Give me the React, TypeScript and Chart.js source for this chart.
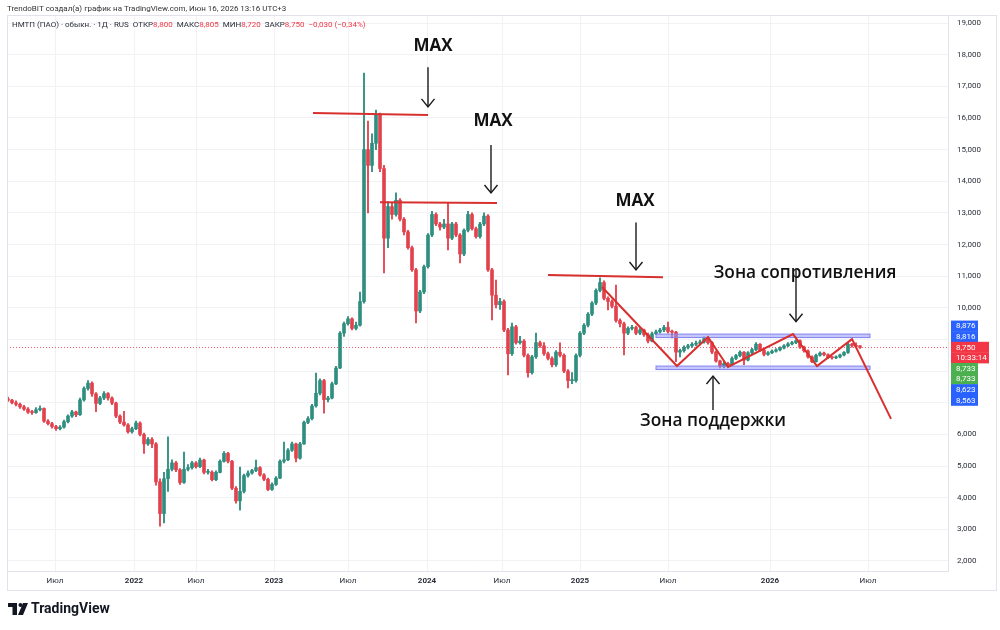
import { useEffect, useRef } from "react";
import { Chart, registerables } from "chart.js";

Chart.register(...registerables);

// Candles: one per ~6 trading sessions, NMTP daily history 2021 – mid 2026
const opens = [
  7120, 7080, 7000, 6950, 6870, 6800, 6700, 6690, 6780, 6820,
  6420, 6340, 6250, 6180, 6230, 6400, 6580, 6710, 6620, 7090,
  7450, 7620, 7280, 6980, 7150, 7290, 7150, 6990, 6580, 6390,
  6300, 6080, 6180, 6360, 6000, 5700, 5840, 5700, 4500, 3500,
  4600, 4900, 5100, 4880, 4480, 4900, 4950, 5100, 4980, 5190,
  4800, 4810, 4570, 4800, 5150, 5400, 5150, 4300, 3900, 4200,
  4700, 4780, 4860, 4950, 4720, 4580, 4260, 4420, 4620, 5150,
  5200, 5500, 5700, 5250, 5700, 6380, 6500, 6900, 7300, 7700,
  7100, 7150, 7600, 8100, 9200, 9500, 9650, 9350, 9450, 10200,
  15000, 14500, 15200, 16100, 14400, 12200, 13200, 12950, 13400, 12800,
  12400, 11900, 11200, 9900, 10500, 11300, 12300, 12950, 12650, 12550,
  12650, 12200, 12650, 12300, 11700, 12450, 12950, 12500, 12250, 12650,
  12900, 11200, 10400, 10100, 10200, 9300, 8550, 9400, 8900, 8950,
  8500, 7950, 8450, 8900, 8800, 8550, 8400, 8200, 8600, 8500,
  8000, 7700, 7700, 8500, 9200, 9450, 9800, 10150, 10550, 10800,
  10300, 10200, 10050, 9600, 9500, 9200, 9350, 9380, 9200, 9300,
  9150, 8950, 9180, 9240, 9300, 9380, 9250, 9230, 8600, 8650,
  8750, 8800, 8850, 8880, 8920, 9020, 8900, 8600, 8320, 8150,
  8240, 8200, 8400, 8490, 8600, 8350, 8580, 8680, 8850, 8660,
  8530, 8580, 8630, 8670, 8730, 8800, 8860, 8900, 8960, 8760,
  8640, 8450, 8300, 8500, 8570, 8520, 8430, 8420, 8450, 8510,
  8590, 8850, 8800, 8800,
];
const highs = [
  7180, 7110, 7060, 6990, 6920, 6850, 6760, 6850, 6900, 6840,
  6470, 6380, 6290, 6280, 6450, 6620, 6760, 6740, 7150, 7500,
  7700, 7660, 7320, 7200, 7350, 7320, 7190, 7020, 6620, 6730,
  6340, 6230, 6420, 6400, 6040, 5900, 5900, 5740, 4600, 4800,
  5920, 5200, 5150, 4920, 5440, 5050, 5150, 5140, 5250, 5220,
  4900, 4850, 4850, 5200, 5460, 5430, 5180, 4350, 4970, 4750,
  4850, 4900, 5190, 4980, 4760, 4620, 4470, 4670, 5200, 5760,
  5550, 5760, 5730, 5750, 6420, 6560, 6950, 7940, 7760, 7740,
  7200, 7650, 8150, 9250, 9550, 9720, 9680, 9550, 10500, 17420,
  15900, 15500, 16250, 16150, 14500, 13350, 13300, 13630, 13450, 12850,
  12450, 11950, 11250, 10550, 11350, 12350, 13050, 13000, 12700, 12800,
  13310, 12700, 12700, 12350, 12500, 13050, 13000, 12550, 12700, 13000,
  12950, 11250, 10880, 10300, 10250, 9350, 9520, 9450, 9100, 9000,
  8550, 8500, 9200, 8950, 8900, 8600, 8450, 8650, 8890, 8550,
  8050, 7950, 8550, 9250, 9500, 9850, 10200, 10600, 10950, 10850,
  10350, 10250, 10720, 9650, 9550, 9400, 9450, 9420, 9350, 9330,
  9200, 9230, 9300, 9350, 9450, 9550, 9300, 9260, 8700, 8800,
  8850, 8900, 8950, 8980, 9080, 9050, 8930, 8640, 8350, 8300,
  8280, 8450, 8530, 8640, 8620, 8620, 8720, 8900, 8870, 8690,
  8620, 8670, 8710, 8770, 8840, 8900, 8940, 9000, 8990, 8790,
  8670, 8480, 8540, 8610, 8600, 8550, 8470, 8480, 8540, 8620,
  8890, 8880, 8890, 8805,
];
const lows = [
  7040, 6960, 6900, 6820, 6760, 6660, 6630, 6660, 6740, 6380,
  6300, 6200, 6130, 6140, 6200, 6360, 6540, 6560, 6600, 7050,
  7400, 7200, 6720, 6940, 7100, 7080, 6940, 6530, 6340, 6260,
  6040, 6040, 6150, 5950, 5400, 5650, 5580, 4400, 3100, 3200,
  4200, 4850, 4820, 4420, 4450, 4850, 4900, 4930, 4950, 4750,
  4740, 4530, 4540, 4780, 5120, 5100, 4250, 3830, 3610, 4150,
  4650, 4740, 4820, 4680, 4540, 4220, 4230, 4390, 4600, 5100,
  5170, 5460, 5130, 5220, 5680, 6340, 6460, 6860, 7250, 6670,
  7030, 7120, 7570, 8080, 9100, 9450, 9300, 9300, 9420, 10150,
  13000, 14300, 15000, 14300, 11100, 11900, 12800, 12900, 12750, 12300,
  11850, 11150, 9520, 9850, 10450, 11250, 12250, 12600, 12450, 12500,
  11830, 12150, 12250, 11420, 11650, 12400, 12450, 12200, 12200, 12600,
  11150, 9620, 10000, 9950, 9250, 7880, 8500, 8850, 8850, 8450,
  7810, 7900, 8400, 8750, 8500, 8350, 8130, 8150, 8450, 7950,
  7470, 7600, 7650, 8450, 9150, 9400, 9750, 10100, 10500, 10250,
  9930, 10000, 9550, 9400, 8510, 9150, 9300, 9150, 9150, 9100,
  8890, 8920, 9150, 9200, 9250, 9200, 9050, 8300, 8450, 8600,
  8700, 8750, 8800, 8830, 8880, 8850, 8550, 8280, 8100, 8100,
  8130, 8170, 8360, 8450, 8200, 8320, 8550, 8650, 8620, 8480,
  8500, 8550, 8600, 8640, 8700, 8770, 8830, 8870, 8720, 8600,
  8410, 8270, 8280, 8470, 8480, 8400, 8380, 8390, 8420, 8480,
  8560, 8760, 8740, 8720,
];
const closes = [
  7080, 7000, 6950, 6870, 6800, 6700, 6690, 6780, 6820, 6420,
  6340, 6250, 6180, 6230, 6400, 6580, 6710, 6620, 7090, 7450,
  7620, 7280, 6980, 7150, 7290, 7150, 6990, 6580, 6390, 6300,
  6080, 6180, 6360, 6000, 5700, 5840, 5700, 4500, 3500, 4600,
  4900, 5100, 4880, 4480, 4900, 4950, 5100, 4980, 5190, 4800,
  4810, 4570, 4800, 5150, 5400, 5150, 4300, 3900, 4200, 4700,
  4780, 4860, 4950, 4720, 4580, 4260, 4420, 4620, 5150, 5200,
  5500, 5700, 5250, 5700, 6380, 6500, 6900, 7300, 7700, 7100,
  7150, 7600, 8100, 9200, 9500, 9650, 9350, 9450, 10200, 15000,
  14500, 15200, 16100, 14400, 12200, 13200, 12950, 13400, 12800, 12400,
  11900, 11200, 9900, 10500, 11300, 12300, 12950, 12650, 12550, 12650,
  12200, 12650, 12300, 11700, 12450, 12950, 12500, 12250, 12650, 12900,
  11200, 10400, 10100, 10200, 9300, 8550, 9400, 8900, 8950, 8500,
  7950, 8450, 8900, 8800, 8550, 8400, 8200, 8600, 8500, 8000,
  7700, 7700, 8500, 9200, 9450, 9800, 10150, 10550, 10800, 10300,
  10200, 10050, 9600, 9500, 9200, 9350, 9380, 9200, 9300, 9150,
  8950, 9180, 9240, 9300, 9380, 9250, 9230, 8600, 8650, 8750,
  8800, 8850, 8880, 8920, 9020, 8900, 8600, 8320, 8150, 8240,
  8200, 8400, 8490, 8600, 8350, 8580, 8680, 8850, 8660, 8530,
  8580, 8630, 8670, 8730, 8800, 8860, 8900, 8960, 8760, 8640,
  8450, 8300, 8500, 8570, 8520, 8430, 8420, 8450, 8510, 8590,
  8850, 8800, 8780, 8750,
];

// Time axis: bar index of each label
const timeTickIndex = [11.75, 31.5, 47, 66.5, 85, 104.75, 123.5, 143, 165, 190.5, 215];
const timeTickLabels = ["Июл", "2022", "Июл", "2023", "Июл", "2024", "Июл", "2025", "Июл", "2026", "Июл"];

// Price axis
const priceTicks = [2000, 3000, 4000, 5000, 6000, 7000, 8000, 9000, 10000, 11000, 12000, 13000, 14000, 15000, 16000, 17000, 18000, 19000];
const hiddenPriceTicks = [7000, 8000, 9000];
const priceMin = 1684;
const priceMax = 19253;
const lastPrice = 8750;
const lastOpen = 8800;
const lastHigh = 8805;
const lastLow = 8720;
const lastChange = -30;
const lastChangePct = -0.34;

// Drawings: horizontal "MAX" levels
const maxLineFrom = [76.25, 93, 135];
const maxLineTo = [105, 122.25, 163.75];
const maxLinePriceFrom = [16160, 13340, 11040];
const maxLinePriceTo = [16090, 13310, 10970];
const maxArrowIndex = [105, 120.75, 157];
const maxArrowTail = [17600, 15145, 12700];
const maxArrowTip = [16350, 13630, 11195];
const maxTextIndex = [106.25, 121.25, 156.75];
const maxTextPrice = [18270, 15900, 13380];

// Drawings: zig-zag path inside the range and the breakdown leg
const zigIndex = [148.5, 167.25, 175, 180, 196.25, 202.25, 211, 220.75];
const zigPrice = [10660, 8160, 9080, 8130, 9170, 8160, 9010, 6490];

// Drawings: resistance / support zones
const zoneFrom = 162;
const zoneTo = 215.5;
const resistanceZone = [9060, 9170];
const supportZone = [8050, 8160];
const zoneLabels = ["Зона сопротивления", "Зона поддержки"];
const zoneLabelIndex = [199.25, 176.25];
const zoneLabelPrice = [11100, 6420];
const zoneArrowIndex = [197, 176.25];
const zoneArrowTail = [11195, 6771];
const zoneArrowTip = [9560, 7845];

// Price axis tags (stacked)
const tagValues = [8876, 8816, 8750, 8733, 8733, 8623, 8563];
const countdown = "10:33:14";

const UP = "#2f8f7f";
const DOWN = "#e3434e";
const GRID = "#f0f2f6";
const FRAME = "#e0e3eb";
const TEXT = "#2a2e39";
const RED = "#f23645";
const BLUE = "#2962ff";
const GREEN = "#4caf50";
const DRAW_RED = "#d8302e";
const FONT = 'Roboto, "Noto Sans", sans-serif';
const LABEL_FONT = '"Open Sans", "Noto Sans", sans-serif';

const fmt = (v: number) => v.toLocaleString("en-US");
const fmtRu = (v: number, d: number) => (v < 0 ? "\u2212" : "") + Math.abs(v).toFixed(d).replace(".", ",");

function drawArrow(ctx: CanvasRenderingContext2D, x: number, yTail: number, yTip: number) {
  const dir = Math.sign(yTip - yTail);
  ctx.beginPath();
  ctx.moveTo(x, yTail);
  ctx.lineTo(x, yTip);
  ctx.stroke();
  ctx.beginPath();
  ctx.moveTo(x - 6.5, yTip - dir * 8);
  ctx.lineTo(x, yTip);
  ctx.lineTo(x + 6.5, yTip - dir * 8);
  ctx.stroke();
}

const overlay = {
  id: "overlay",
  beforeDatasetsDraw(chart: any) {
    const { ctx, chartArea: a, scales } = chart;
    const y = scales.y;
    const py = Math.round(y.getPixelForValue(lastPrice)) + 0.5;
    ctx.save();
    ctx.strokeStyle = RED;
    ctx.globalAlpha = 0.8;
    ctx.lineWidth = 1;
    ctx.setLineDash([1, 2]);
    ctx.beginPath();
    ctx.moveTo(a.left, py);
    ctx.lineTo(a.right, py);
    ctx.stroke();
    ctx.restore();
  },
  afterDatasetsDraw(chart: any) {
    const { ctx, scales } = chart;
    const x = scales.x;
    const y = scales.y;
    const X = (v: number) => x.getPixelForValue(v);
    const Y = (v: number) => y.getPixelForValue(v);
    ctx.save();

    // zones
    ctx.lineWidth = 1;
    for (const z of [resistanceZone, supportZone]) {
      const x1 = X(zoneFrom), x2 = X(zoneTo);
      const y1 = Y(z[1]), y2 = Y(z[0]);
      ctx.fillStyle = "rgba(150,152,245,0.55)";
      ctx.fillRect(x1, y1, x2 - x1, y2 - y1);
      ctx.strokeStyle = "#8084ef";
      ctx.strokeRect(x1, y1, x2 - x1, y2 - y1);
    }

    // MAX levels
    ctx.strokeStyle = DRAW_RED;
    ctx.lineWidth = 2;
    for (let i = 0; i < maxLineFrom.length; i++) {
      ctx.beginPath();
      ctx.moveTo(X(maxLineFrom[i]), Y(maxLinePriceFrom[i]));
      ctx.lineTo(X(maxLineTo[i]), Y(maxLinePriceTo[i]));
      ctx.stroke();
    }

    // zig-zag
    ctx.beginPath();
    zigIndex.forEach((v, i) => {
      const px = X(v), py = Y(zigPrice[i]);
      if (i === 0) ctx.moveTo(px, py);
      else ctx.lineTo(px, py);
    });
    ctx.lineJoin = "miter";
    ctx.stroke();

    // arrows
    ctx.strokeStyle = "#1a1a1a";
    ctx.lineWidth = 1.4;
    for (let i = 0; i < maxArrowIndex.length; i++) {
      drawArrow(ctx, X(maxArrowIndex[i]), Y(maxArrowTail[i]), Y(maxArrowTip[i]));
    }
    for (let i = 0; i < zoneArrowIndex.length; i++) {
      drawArrow(ctx, X(zoneArrowIndex[i]), Y(zoneArrowTail[i]), Y(zoneArrowTip[i]));
    }

    // texts
    ctx.fillStyle = "#111";
    ctx.textAlign = "center";
    ctx.textBaseline = "middle";
    ctx.font = `bold 17px ${LABEL_FONT}`;
    for (let i = 0; i < maxTextIndex.length; i++) {
      ctx.fillText("MAX", X(maxTextIndex[i]), Y(maxTextPrice[i]));
    }
    ctx.font = `600 17.3px ${LABEL_FONT}`;
    zoneLabels.forEach((t, i) => ctx.fillText(t, X(zoneLabelIndex[i]), Y(zoneLabelPrice[i])));
    ctx.restore();
  },
  afterDraw(chart: any) {
    const { ctx, chartArea: a, scales } = chart;
    const y = scales.y;
    ctx.save();

    // pane frame
    ctx.strokeStyle = FRAME;
    ctx.lineWidth = 1;
    ctx.strokeRect(7.5, 15.5, 989, 575);

    // stacked price tags on the axis
    const rowH = 10.6;
    const redTop = y.getPixelForValue(lastPrice) - 5.6;
    const tagLeft = a.right + 3;
    const rows = [
      { t: fmt(tagValues[0]), c: BLUE, top: redTop - 2 * rowH, w: 27 },
      { t: fmt(tagValues[1]), c: BLUE, top: redTop - rowH, w: 27 },
      { t: fmt(tagValues[2]), c: RED, top: redTop, w: 38 },
      { t: countdown, c: RED, top: redTop + rowH, w: 38 },
      { t: fmt(tagValues[3]), c: GREEN, top: redTop + 2 * rowH, w: 27 },
      { t: fmt(tagValues[4]), c: GREEN, top: redTop + 3 * rowH, w: 27 },
      { t: fmt(tagValues[5]), c: BLUE, top: redTop + 4 * rowH, w: 27 },
      { t: fmt(tagValues[6]), c: BLUE, top: redTop + 5 * rowH, w: 27 },
    ];
    for (const r of rows) {
      ctx.fillStyle = r.c;
      ctx.fillRect(tagLeft, r.top, r.w, rowH + 0.4);
    }
    ctx.fillStyle = "#fff";
    ctx.font = `8px ${FONT}`;
    ctx.textAlign = "left";
    ctx.textBaseline = "middle";
    for (const r of rows) ctx.fillText(r.t, tagLeft + 5, r.top + rowH / 2 + 0.5);

    // header line
    ctx.fillStyle = "#333";
    ctx.font = `8px ${FONT}`;
    ctx.fillText("TrendoBIT создал(а) график на TradingView.com, Июн 16, 2026 13:16 UTC+3", 7, 9);

    // legend line
    let lx = 12;
    const ly = 25;
    const part = (t: string, c: string, gap: number) => {
      ctx.fillStyle = c;
      ctx.fillText(t, lx, ly);
      lx += ctx.measureText(t).width + gap;
    };
    part("НМТП (ПАО) · обыкн. · 1Д · RUS", TEXT, 4);
    part("ОТКР", TEXT, 0);
    part(fmt(lastOpen), RED, 4);
    part("МАКС", TEXT, 0);
    part(fmt(lastHigh), RED, 4);
    part("МИН", TEXT, 0);
    part(fmt(lastLow), RED, 4);
    part("ЗАКР", TEXT, 0);
    part(fmt(lastPrice), RED, 4);
    part(`${fmtRu(lastChange / 1000, 3)} (${fmtRu(lastChangePct, 2)}%)`, RED, 0);

    // TradingView logo
    const lx0 = 8, ly0 = 603;
    ctx.fillStyle = "#131722";
    ctx.fillRect(lx0, ly0, 9, 4);
    ctx.fillRect(lx0 + 4.5, ly0, 4.5, 12);
    ctx.beginPath();
    ctx.arc(lx0 + 12.5, ly0 + 2, 2, 0, Math.PI * 2);
    ctx.fill();
    ctx.beginPath();
    ctx.moveTo(lx0 + 15, ly0);
    ctx.lineTo(lx0 + 20, ly0);
    ctx.lineTo(lx0 + 15, ly0 + 12);
    ctx.lineTo(lx0 + 10, ly0 + 12);
    ctx.closePath();
    ctx.fill();
    ctx.font = `bold 14px ${FONT}`;
    ctx.fillText("TradingView", lx0 + 23, ly0 + 6.5);
    ctx.restore();
  },
};

export default function App() {
  const ref = useRef<HTMLCanvasElement>(null);

  useEffect(() => {
    const canvas = ref.current;
    if (!canvas) return;
    const idx = closes.map((_, i) => i);
    const colors = idx.map((i) => (closes[i] >= opens[i] ? UP : DOWN));
    const chart = new Chart(canvas, {
      type: "bar",
      data: {
        datasets: [
          {
            data: idx.map((i) => ({ x: i, y: [lows[i], highs[i]] })) as any,
            backgroundColor: colors,
            barThickness: 1.2,
            grouped: false,
            borderWidth: 0,
          },
          {
            data: idx.map((i) => ({ x: i, y: [opens[i], closes[i]] })) as any,
            backgroundColor: colors,
            barThickness: 3,
            minBarLength: 1,
            grouped: false,
            borderWidth: 0,
          },
        ],
      },
      options: {
        responsive: false,
        animation: false,
        events: [],
        layout: { padding: { left: 7, top: 15, right: 0, bottom: 40 } },
        plugins: { legend: { display: false }, tooltip: { enabled: false } },
        scales: {
          x: {
            type: "linear",
            min: -0.25,
            max: 235,
            offset: false,
            grid: { color: GRID, drawTicks: false, offset: false },
            border: { color: FRAME },
            ticks: {
              autoSkip: false,
              maxRotation: 0,
              padding: 5,
              color: TEXT,
              font: (c: any) => ({
                family: FONT,
                size: 8,
                weight: c && c.index !== undefined && /^\d/.test(timeTickLabels[c.index] || "") ? "bold" : "normal",
              }),
              callback: (_v: any, i: number) => timeTickLabels[i],
            },
            afterBuildTicks: (s: any) => {
              s.ticks = timeTickIndex.map((v) => ({ value: v }));
            },
            afterFit: (s: any) => {
              s.height = 19;
            },
          },
          y: {
            type: "linear",
            position: "right",
            min: priceMin,
            max: priceMax,
            grid: { color: GRID, drawTicks: false },
            border: { color: FRAME },
            ticks: {
              padding: 9,
              color: TEXT,
              font: { family: FONT, size: 8 },
              callback: (v: any) => (hiddenPriceTicks.includes(Number(v)) ? "" : fmt(Number(v))),
            },
            afterBuildTicks: (s: any) => {
              s.ticks = priceTicks.map((v) => ({ value: v }));
            },
            afterFit: (s: any) => {
              s.width = 52;
            },
          },
        },
      },
      plugins: [overlay],
    });
    return () => chart.destroy();
  }, []);

  return (
    <div style={{ position: "fixed", left: 0, top: 0, width: 1000, height: 630, background: "#fff" }}>
      <canvas ref={ref} width={1000} height={630} style={{ display: "block" }} />
    </div>
  );
}
